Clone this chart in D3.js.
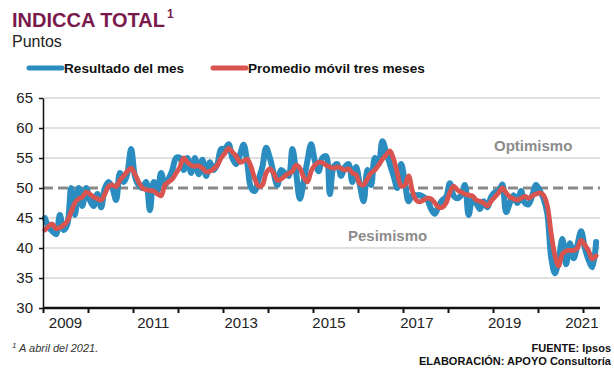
<!DOCTYPE html>
<html>
<head>
<meta charset="utf-8">
<script src="https://cdn.jsdelivr.net/npm/d3@7"></script>
<style>
  body { margin: 0; background: #fff; }
  svg { display: block; font-family: "Liberation Sans", Arial, sans-serif; }
</style>
</head>
<body>
<svg id="chart" width="614" height="378"></svg>
<script>
// monthly values, Jan 2009 .. Apr 2021
var resultadoMes = [
  45, 43.5, 42.8, 42.3, 45.5, 43, 44, 50, 45.5, 50, 47, 50,            // 2009
  48, 47, 49, 46.8, 50, 51, 50, 48, 52.5, 51, 52.5, 56.5,              // 2010
  52, 50.5, 50, 51, 46.3, 51, 49.5, 52.5, 50.5, 51.5, 53, 55,          // 2011
  55, 53, 55, 52.5, 55, 52.3, 54.7, 52, 54.3, 53, 54, 56.5,            // 2012
  56.5, 57.3, 55, 54, 55.5, 57.2, 54, 50, 49.5, 51.5, 53.5, 56.7,      // 2013
  55, 52.5, 50.5, 53, 52.5, 52, 56.5, 52.5, 48.2, 51, 54.5, 57.3,      // 2014
  54.5, 52.8, 55, 55.3, 49, 53.5, 54, 52, 53.5, 54, 51, 53.5,          // 2015
  50.5, 47.8, 53, 50.5, 55, 54, 57.8, 56, 54, 52, 50, 54,              // 2016
  51, 47.8, 48.8, 48.8, 48.8, 48.5, 48, 46.5, 45.7, 47, 48, 48.5,      // 2017
  50.8, 48.7, 48.3, 48.8, 50.5, 45.5, 48, 47.5, 46.5, 47.8, 46.8, 48.5,// 2018
  49.3, 49.5, 50.6, 46, 47.5, 48.8, 47.5, 49.5, 47.5, 47.3, 48.8, 50.5,// 2019
  49.5, 48.2, 45.7, 38.5, 35.8, 38, 41.5, 37.3, 40.8, 38.3, 40.5, 42.8,// 2020
  40, 38, 36.8, 41                                                     // 2021
];
var promedioMovil = [
  43, 43.6, 44, 43.2, 43.4, 43.8, 44.5, 46, 47.5, 48.2, 48.5, 49.3,
  49, 48.5, 48.2, 48, 49, 50.3, 50.5, 50.2, 51.3, 52, 52.8, 53.3,
  52.3, 51, 50, 49.7, 49.6, 49.5, 49, 48.7, 50.5, 51, 51.5, 52.5,
  53.5, 55, 54.3, 53.8, 53.6, 53.7, 53.3, 52.7, 52.8, 53.2, 53.8, 55,
  55.8, 56.6, 56, 55.3, 54.3, 54.5, 54.8, 53.5, 51.5, 50.3, 50.5, 52.5,
  53.2, 52.5, 51.3, 51.5, 52, 52.4, 52.8, 53.8, 53.3, 51.8, 51, 52.8,
  53.8, 54.3, 54.2, 53.8, 53.5, 53.3, 53.5, 53.3, 53, 53.2, 52.5, 52.2,
  50.7, 50.5, 51.5, 52.5, 53, 53.8, 54.8, 55.5, 56.2, 54.8, 52.5, 50.3,
  50.5, 52, 49.5, 48, 47.7, 48, 48.3, 48.2, 47.5, 46.8, 46.8, 47.5,
  49.3, 50.3, 49.7, 49.3, 49, 48.8, 48.7, 48, 47.8, 47.5, 47, 47.8,
  48.5, 49.2, 50, 49.2, 48.5, 48.2, 48, 48.3, 48.6, 48.3, 48.7, 49,
  49.2, 48.8, 47, 42.5, 38.8, 37, 39, 39.5, 39.6, 39.6, 40, 41.3,
  40.5, 39.5, 38.2, 38.7
];
var years = [2009, 2010, 2011, 2012, 2013, 2014, 2015, 2016, 2017, 2018, 2019, 2020, 2021];
var yearLabels = [2009, 2011, 2013, 2015, 2017, 2019, 2021];
var yTicks = [30, 35, 40, 45, 50, 55, 60, 65];
var umbral = 50;

var svg = d3.select("#chart");
var plotLeft = 43, plotRight = 600, plotTop = 98, plotBottom = 308;
var nMonths = resultadoMes.length;

var x = d3.scaleLinear().domain([0, nMonths]).range([plotLeft, plotLeft + nMonths * 3.75]);
var y = d3.scaleLinear().domain([30, 65]).range([plotBottom, plotTop]);
// year labels sit on their own evenly spaced positions
var xLabel = d3.scalePoint().domain(yearLabels).range([65, 592]);

// titles
var titulo = svg.append("text").attr("x", 12).attr("y", 27)
  .attr("font-size", 20).attr("font-weight", "bold").attr("fill", "#7a1a4c");
titulo.append("tspan").text("INDICCA TOTAL");
titulo.append("tspan").attr("font-size", 12).attr("dx", 2).attr("dy", -9).text("1");
svg.append("text").attr("x", 12).attr("y", 47)
  .attr("font-size", 16).attr("fill", "#222")
  .text("Puntos");

// legend
var legend = [
  { name: "Resultado del mes", color: "#2a8cbf", x0: 29 },
  { name: "Promedio móvil tres meses", color: "#d9534f", x0: 213 }
];
legend.forEach(function (d) {
  svg.append("line").attr("x1", d.x0).attr("x2", d.x0 + 33)
    .attr("y1", 68).attr("y2", 68)
    .attr("stroke", d.color).attr("stroke-width", 5).attr("stroke-linecap", "round");
  svg.append("text").attr("x", d.x0 + 35).attr("y", 73)
    .attr("font-size", 13.6).attr("font-weight", "bold").attr("fill", "#111")
    .text(d.name);
});

// gridlines
svg.append("g").selectAll("line")
  .data(yTicks.filter(function (v) { return v !== umbral && v !== 30; }))
  .enter().append("line")
  .attr("x1", plotLeft).attr("x2", plotRight)
  .attr("y1", function (v) { return y(v); }).attr("y2", function (v) { return y(v); })
  .attr("stroke", "#d4d4d4").attr("stroke-width", 1.5);

svg.append("line")
  .attr("x1", plotLeft).attr("x2", plotRight)
  .attr("y1", y(umbral)).attr("y2", y(umbral))
  .attr("stroke", "#8a8a8a").attr("stroke-width", 3).attr("stroke-dasharray", "10,5");

// zone labels
svg.append("text").attr("x", 494).attr("y", 151)
  .attr("font-size", 15).attr("font-weight", "bold").attr("fill", "#8c8c8c")
  .text("Optimismo");
svg.append("text").attr("x", 348).attr("y", 241)
  .attr("font-size", 15).attr("font-weight", "bold").attr("fill", "#8c8c8c")
  .text("Pesimismo");

// series
var line = d3.line()
  .x(function (d, i) { return x(i + 0.5); })
  .y(function (d) { return y(d); })
  .curve(d3.curveCatmullRom.alpha(0.5));

svg.append("path").datum(resultadoMes)
  .attr("d", line).attr("fill", "none")
  .attr("stroke", "#2a8cbf").attr("stroke-width", 6)
  .attr("stroke-linejoin", "round").attr("stroke-linecap", "round");
svg.append("path").datum(promedioMovil)
  .attr("d", line).attr("fill", "none")
  .attr("stroke", "#d9534f").attr("stroke-width", 4.8)
  .attr("stroke-linejoin", "round").attr("stroke-linecap", "round");

// y axis
var yAxis = svg.append("g")
  .attr("transform", "translate(" + plotLeft + ",0)")
  .call(d3.axisLeft(y).tickValues(yTicks).tickSize(4).tickSizeOuter(0).tickPadding(6));
yAxis.select(".domain").attr("stroke", "#111").attr("stroke-width", 1.5);
yAxis.selectAll(".tick line").attr("stroke", "#111").attr("stroke-width", 1.5);
yAxis.selectAll(".tick text").attr("font-size", 15).attr("fill", "#222")
  .attr("font-family", "Liberation Sans, Arial, sans-serif");

// x axis: year boundaries as ticks
var xAxis = svg.append("g")
  .attr("transform", "translate(0," + plotBottom + ")")
  .call(d3.axisBottom(x)
    .tickValues(years.map(function (yr, k) { return k * 12; }))
    .tickSize(5).tickSizeOuter(0).tickFormat(""));
xAxis.select(".domain").attr("d", "M" + plotLeft + ",0H" + plotRight)
  .attr("stroke", "#111").attr("stroke-width", 2.5);
xAxis.selectAll(".tick line").attr("stroke", "#111").attr("stroke-width", 2);

var xLabels = svg.append("g")
  .attr("transform", "translate(0," + plotBottom + ")")
  .call(d3.axisBottom(xLabel).tickSize(0).tickPadding(9));
xLabels.select(".domain").remove();
xLabels.selectAll(".tick text").attr("font-size", 15).attr("fill", "#222")
  .attr("font-family", "Liberation Sans, Arial, sans-serif");
// last label pulled inside the plot edge
xLabels.selectAll(".tick text").filter(function (d) { return d === 2021; })
  .attr("text-anchor", "end").attr("dx", 6);

// notes
var nota = svg.append("text").attr("x", 12).attr("y", 352)
  .attr("font-size", 11).attr("font-style", "italic").attr("fill", "#333");
nota.append("tspan").attr("font-size", 8).attr("dy", -4).text("1");
nota.append("tspan").attr("dy", 4).text(" A abril del 2021.");

svg.append("text").attr("x", 611).attr("y", 352).attr("text-anchor", "end")
  .attr("font-size", 11).attr("font-weight", "bold").attr("fill", "#111")
  .text("FUENTE: Ipsos");
svg.append("text").attr("x", 611).attr("y", 365).attr("text-anchor", "end")
  .attr("font-size", 11).attr("font-weight", "bold").attr("fill", "#111")
  .text("ELABORACIÓN: APOYO Consultoría");
</script>
</body>
</html>
